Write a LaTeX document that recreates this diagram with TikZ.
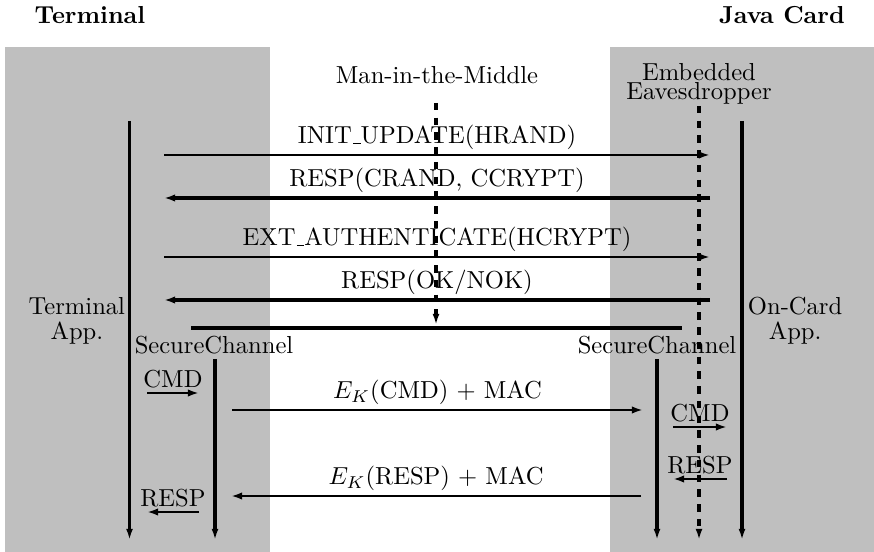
\documentclass[tikz,border=0pt]{standalone}
\usepackage{amsmath}
\usepackage{tikz}
\usetikzlibrary{positioning,arrows.meta}

\newcommand{\uscore}{\leavevmode\kern.06em\vbox{\hrule width.3em}}

\begin{document}
\begin{tikzpicture}[x=0.0143cm, y=-0.0143cm,
        life/.style={line width=1.6pt, -{Latex[length=4.5pt, width=2.8pt]}},
        tap/.style={life, dashed},
        cmdmsg/.style={line width=1.2pt, -{Latex[length=4.5pt, width=3pt]}},
        respmsg/.style={line width=1.6pt, -{Latex[length=4.5pt, width=3pt]}},
        local/.style={line width=1.1pt, -{Latex[length=4.5pt, width=3pt]}},
        lbl/.style={above, inner sep=1.5pt}]
        \useasboundingbox (0,0) rectangle (874,552);
        \fill[lightgray] (5,47) rectangle (270,552);
        \fill[lightgray] (610,47) rectangle (874,552);

        \node[font=\bfseries] (terminal) at (90,15) {Terminal};
        \node[font=\bfseries] (javacard) at (782,15) {Java Card};
        \node (mitm) at (437,75) {Man-in-the-Middle};
        \node[align=center, inner sep=1pt] (eaves) at (699,84) {Embedded\\[-4pt]Eavesdropper};
        \node[align=center, inner sep=1pt, anchor=east] (termApp) at (128,321) {Terminal\\[-2pt]App.};
        \node[align=center, inner sep=1pt, anchor=west] (cardApp) at (745,321) {On-Card\\[-2pt]App.};
        \node (scL) at (214,345) {SecureChannel};
        \node (scR) at (657,345) {SecureChannel};

        % lifelines
        \coordinate (termTop) at (129.5,121);
        \coordinate (termBot) at (129.5,540);
        \coordinate (cardTop) at (742,121);
        \coordinate (cardBot) at (742,540);
        \coordinate (mitmTop) at (436,103);
        \coordinate (mitmBot) at (436,325);
        \coordinate (eavesTop) at (699,106);
        \coordinate (eavesBot) at (699,540);
        \coordinate (scLTop) at (215,359);
        \coordinate (scLBot) at (215,540);
        \coordinate (scRTop) at (657,359);
        \coordinate (scRBot) at (657,540);

        \draw (termTop) edge[life] (termBot);
        \draw (cardTop) edge[life] (cardBot);
        \draw (scLTop) edge[life] (scLBot);
        \draw (scRTop) edge[life] (scRBot);
        \draw (mitmTop) edge[tap] (mitmBot);

        % handshake
        \coordinate (initL) at (164,155);
        \coordinate (initR) at (710,155);
        \coordinate (crandL) at (164,198);
        \coordinate (crandR) at (710,198);
        \coordinate (extL) at (164,257);
        \coordinate (extR) at (710,257);
        \coordinate (okL) at (164,300);
        \coordinate (okR) at (710,300);
        \coordinate (barL) at (191,328);
        \coordinate (barR) at (682,328);

        \draw (initL) edge[cmdmsg] node[lbl] {INIT\uscore UPDATE(HRAND)} (initR);
        \draw (crandR) edge[respmsg] node[lbl] {RESP(CRAND, CCRYPT)} (crandL);
        \draw (extL) edge[cmdmsg] node[lbl] {EXT\uscore AUTHENTICATE(HCRYPT)} (extR);
        \draw (okR) edge[respmsg] node[lbl] {RESP(OK/NOK)} (okL);
        \draw[line width=2pt] (barL) -- (barR);

        % secure channel traffic
        \coordinate (ekCmdL) at (232,410);
        \coordinate (ekCmdR) at (643,410);
        \coordinate (ekRespL) at (231,496);
        \coordinate (ekRespR) at (641,496);
        \draw (ekCmdL) edge[cmdmsg] node[lbl] {$E_K$(CMD) $+$ MAC} (ekCmdR);
        \draw (ekRespR) edge[cmdmsg] node[lbl] {$E_K$(RESP) $+$ MAC} (ekRespL);

        \coordinate (cmdLa) at (147,393);
        \coordinate (cmdLb) at (199,393);
        \coordinate (respLa) at (199,512);
        \coordinate (respLb) at (147,512);
        \coordinate (cmdRa) at (673,427);
        \coordinate (cmdRb) at (727,427);
        \coordinate (respRa) at (727,479);
        \coordinate (respRb) at (673,479);
        \draw (cmdLa) edge[local] node[lbl] {CMD} (cmdLb);
        \draw (respLa) edge[local] node[lbl] {RESP} (respLb);
        \draw (cmdRa) edge[local] node[lbl] {CMD} (cmdRb);
        \draw (respRa) edge[local] node[lbl] {RESP} (respRb);

        \draw (eavesTop) edge[tap] (eavesBot);
      \end{tikzpicture}
\end{document}
